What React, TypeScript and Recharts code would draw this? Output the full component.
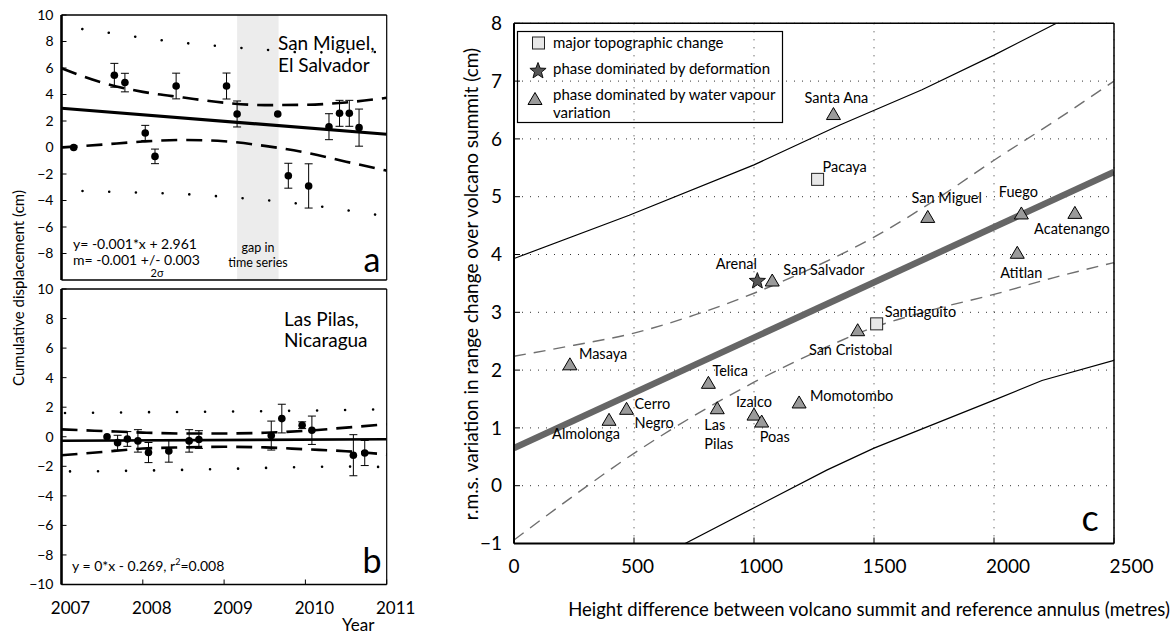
import React from 'react';
import {
  ComposedChart,
  XAxis,
  YAxis,
  Line,
  Scatter,
  ErrorBar,
  ReferenceArea,
  CartesianGrid,
} from 'recharts';

const FONT = "Lato, 'Open Sans', 'DejaVu Sans', sans-serif";

// ---------------- a: San Miguel, El Salvador ----------------
const sanMiguelYear = [2007.15, 2007.65, 2007.78, 2008.03, 2008.15, 2008.41, 2009.03, 2009.16, 2009.66, 2009.79, 2010.04, 2010.29, 2010.42, 2010.54, 2010.66];
const sanMiguelDisp = [0.0, 5.45, 4.9, 1.1, -0.67, 4.64, 4.64, 2.53, 2.53, -2.13, -2.9, 1.57, 2.58, 2.58, 1.5];
const sanMiguelErr = [0, 0.9, 0.7, 0.57, 0.55, 0.97, 0.98, 0.98, 0, 0.94, 1.67, 0.98, 0.98, 0.98, 1.4];

const fitYears = [2007, 2011];
const sanMiguelFit = [2.961, 1.0];

const bandYears = [2007, 2007.5, 2008, 2008.5, 2009, 2009.5, 2010, 2010.5, 2011];
const sanMiguelConfUpper = [5.98, 4.9, 4.2, 3.77, 3.38, 3.2, 3.22, 3.4, 3.75];
const sanMiguelConfLower = [0.0, 0.22, 0.45, 0.57, 0.47, 0.12, -0.38, -1.07, -1.75];
const sanMiguelPredUpper = [9.15, 8.73, 8.28, 7.9, 7.62, 7.38, 7.18, 7.18, 7.22];
const sanMiguelPredLower = [-3.24, -3.32, -3.41, -3.51, -3.72, -3.97, -4.3, -4.73, -5.2];

const gapYears = [2009.16, 2009.67];

// ---------------- b: Las Pilas, Nicaragua ----------------
const lasPilasYear = [2007.56, 2007.69, 2007.81, 2007.94, 2008.07, 2008.32, 2008.57, 2008.69, 2009.58, 2009.71, 2009.96, 2010.08, 2010.59, 2010.73];
const lasPilasDisp = [0.0, -0.4, -0.15, -0.28, -1.07, -0.96, -0.28, -0.19, 0.08, 1.23, 0.78, 0.44, -1.25, -1.1];
const lasPilasErr = [0, 0.5, 0.5, 0.76, 0.68, 0.76, 0.76, 0.6, 0.98, 0.97, 0.23, 0.96, 1.39, 0.85];

const lasPilasFit = [-0.269, -0.17];
const lasPilasConfUpper = [0.5, 0.39, 0.28, 0.22, 0.22, 0.27, 0.4, 0.62, 0.85];
const lasPilasConfLower = [-1.25, -1.03, -0.8, -0.72, -0.68, -0.72, -0.85, -0.98, -1.2];
const lasPilasPredUpper = [1.6, 1.63, 1.66, 1.68, 1.7, 1.73, 1.77, 1.81, 1.86];
const lasPilasPredLower = [-2.35, -2.33, -2.29, -2.24, -2.18, -2.11, -2.05, -2.02, -2.05];

// ---------------- shared tick lists for a / b ----------------
const yearTicks = [2007, 2008, 2009, 2010, 2011];
const dispTicksA = [-8, -6, -4, -2, 0, 2, 4, 6, 8, 10];
const dispTicksB = [-10, -8, -6, -4, -2, 0, 2, 4, 6, 8, 10];

// ---------------- c: rms variation vs height difference ----------------
const volcanoNames = ['Santa Ana', 'Pacaya', 'San Miguel', 'Fuego', 'Acatenango', 'Atitlan', 'Arenal', 'San Salvador', 'Santiaguito', 'San Cristobal', 'Masaya', 'Telica', 'Cerro Negro', 'Almolonga', 'Las Pilas', 'Izalco', 'Poas', 'Momotombo'];
const heightDiff = [1331, 1265, 1724, 2114, 2337, 2097, 1014, 1076, 1511, 1432, 233, 810, 469, 396, 847, 1000, 1032, 1188];
const rmsVariation = [6.43, 5.3, 4.65, 4.71, 4.72, 4.03, 3.54, 3.55, 2.8, 2.69, 2.1, 1.78, 1.33, 1.14, 1.34, 1.23, 1.11, 1.44];
const phaseClass = ['vapour', 'topography', 'vapour', 'vapour', 'vapour', 'vapour', 'deformation', 'vapour', 'topography', 'vapour', 'vapour', 'vapour', 'vapour', 'vapour', 'vapour', 'vapour', 'vapour', 'vapour'];

const fitHeights = [0, 2500];
const fitRms = [0.65, 5.43];
const bandHeights = [0, 250, 500, 750, 1000, 1250, 1500, 1750, 2000, 2250, 2500];
const confUpperRms = [2.24, 2.43, 2.64, 2.95, 3.33, 3.78, 4.3, 4.93, 5.63, 6.3, 7.0];
const confLowerRms = [-0.94, -0.17, 0.56, 1.21, 1.79, 2.3, 2.74, 3.05, 3.31, 3.6, 3.86];
const predUpperHeights = [0, 480, 1000, 1358, 1700, 2000, 2260];
const predUpperRms = [3.93, 4.68, 5.55, 6.24, 6.85, 7.45, 8.0];
const predLowerHeights = [713, 1303, 1500, 2000, 2200, 2500];
const predLowerRms = [-1, 0.27, 0.65, 1.48, 1.82, 2.17];

const heightTicks = [0, 500, 1000, 1500, 2000, 2500];
const rmsTicks = [-1, 0, 1, 2, 3, 4, 5, 6, 7, 8];

// label placement around each volcano marker (offset of the text centre)
type LabelPos = { anchor: 'start' | 'middle' | 'end'; dx: number; dy: number; lines?: string[] };
const labelLayout: Record<string, LabelPos> = {
  'Santa Ana': { anchor: 'middle', dx: 3, dy: -17 },
  Pacaya: { anchor: 'start', dx: 5, dy: -13 },
  'San Miguel': { anchor: 'middle', dx: 19, dy: -19 },
  Fuego: { anchor: 'middle', dx: -3, dy: -22 },
  Acatenango: { anchor: 'middle', dx: -3, dy: 16 },
  Atitlan: { anchor: 'middle', dx: 4, dy: 20 },
  Arenal: { anchor: 'middle', dx: -21, dy: -18 },
  'San Salvador': { anchor: 'start', dx: 11, dy: -11 },
  Santiaguito: { anchor: 'start', dx: 8, dy: -12 },
  'San Cristobal': { anchor: 'middle', dx: -7, dy: 19 },
  Masaya: { anchor: 'start', dx: 9, dy: -11 },
  Telica: { anchor: 'start', dx: 4, dy: -12 },
  'Cerro Negro': { anchor: 'start', dx: 8, dy: -5, lines: ['Cerro', 'Negro'] },
  Almolonga: { anchor: 'middle', dx: -23, dy: 14 },
  'Las Pilas': { anchor: 'start', dx: -13, dy: 16, lines: ['Las', 'Pilas'] },
  Izalco: { anchor: 'middle', dx: 0, dy: -13 },
  Poas: { anchor: 'start', dx: -2, dy: 15 },
  Momotombo: { anchor: 'start', dx: 11, dy: -7 },
};

const zip = (xs: number[], ys: number[]) => xs.map((x, i) => ({ x, y: ys[i] }));
const fmtMinus = (v: number) => (v < 0 ? '\u2212' + Math.abs(v) : String(v));

// ---------- marker glyphs ----------
const starPoints = (cx: number, cy: number, R: number, r: number) => {
  const pts: string[] = [];
  for (let k = 0; k < 10; k++) {
    const rad = k % 2 === 0 ? R : r;
    const a = -Math.PI / 2 + (k * Math.PI) / 5;
    pts.push(`${cx + rad * Math.cos(a)},${cy + rad * Math.sin(a)}`);
  }
  return pts.join(' ');
};

const triangleGlyph = (cx: number, cy: number) => (
  <polygon points={`${cx},${cy - 6.5} ${cx - 7},${cy + 5.5} ${cx + 7},${cy + 5.5}`} fill="#9a9a9a" stroke="#000" strokeWidth={1} />
);
const squareGlyph = (cx: number, cy: number) => (
  <rect x={cx - 6} y={cy - 6} width={12} height={12} fill="#e8e8e8" stroke="#222" strokeWidth={1} />
);
const starGlyph = (cx: number, cy: number) => (
  <polygon points={starPoints(cx, cy, 8.5, 3.6)} fill="#555" stroke="#111" strokeWidth={1} />
);

const glyphFor: Record<string, (cx: number, cy: number) => React.ReactElement> = {
  vapour: triangleGlyph,
  topography: squareGlyph,
  deformation: starGlyph,
};

const volcanoShape = (kind: string) => (props: any) => {
  const { cx, cy, payload } = props;
  const lay = labelLayout[payload.name];
  const lines = lay.lines ?? [payload.name];
  return (
    <g>
      {glyphFor[kind](cx, cy)}
      {lines.map((t: string, i: number) => (
        <text
          key={i}
          x={cx + lay.dx}
          y={cy + lay.dy + i * 19}
          textAnchor={lay.anchor}
          dominantBaseline="central"
          fontSize={14.5}
          fill="#000"
          fontFamily={FONT}
        >
          {t}
        </text>
      ))}
    </g>
  );
};

const dotShape = (props: any) => <circle cx={props.cx} cy={props.cy} r={3.8} fill="#000" />;

// bottom tick labels of panel c drift slightly rightwards with value
const HeightTick = (props: any) => {
  const { x, y, payload } = props;
  return (
    <text x={x + payload.value * 0.007} y={y} dy="0.71em" textAnchor="middle" fontSize={19} fill="#000" fontFamily={FONT}>
      {payload.value}
    </text>
  );
};

// ---------- time-series panel layers (a and b) ----------
type SeriesCfg = {
  year: number[];
  disp: number[];
  err: number[];
  fit: number[];
  confUpper: number[];
  confLower: number[];
  predUpper: number[];
  predLower: number[];
  dotGap: number;
  dotOffsetUpper: number;
  dotOffsetLower: number;
  fitWidth: number;
  dispTicks: number[];
  showYears: boolean;
};

function timeSeriesChildren(c: SeriesCfg, gap?: number[]) {
  const pts = c.year.map((x, i) => ({ x, y: c.disp[i], err: c.err[i] }));
  const common = {
    xAxisId: 'b',
    yAxisId: 'l',
    dataKey: 'y',
    dot: false,
    activeDot: false,
    isAnimationActive: false,
    type: 'monotone' as const,
  };
  const dotted = {
    ...common,
    stroke: '#000',
    strokeWidth: 2.6,
    strokeLinecap: 'round' as const,
    strokeDasharray: `0.01 ${c.dotGap}`,
  };
  const dashed = { ...common, stroke: '#000', strokeWidth: 2.6, strokeDasharray: '16 9' };
  const axisText = { fontSize: 14, fill: '#000', fontFamily: FONT };
  const kids: React.ReactElement[] = [
    <XAxis
      key="xb"
      xAxisId="b"
      type="number"
      dataKey="x"
      domain={[2007, 2011]}
      ticks={yearTicks}
      interval={0}
      allowDataOverflow
      height={40}
      tick={c.showYears ? { fontSize: 17, fill: '#000', fontFamily: FONT, dx: 9 } : false}
      tickSize={-5}
      tickMargin={22}
      axisLine={{ stroke: '#000', strokeWidth: 1.6 }}
      tickLine={{ stroke: '#000', strokeWidth: 1 }}
    />,
    <XAxis
      key="xt"
      xAxisId="t"
      orientation="top"
      mirror
      type="number"
      domain={[2007, 2011]}
      ticks={yearTicks}
      interval={0}
      allowDataOverflow
      tick={false}
      tickSize={5}
      axisLine={{ stroke: '#000', strokeWidth: 1.4 }}
      tickLine={{ stroke: '#000', strokeWidth: 1 }}
    />,
    <YAxis
      key="yl"
      yAxisId="l"
      type="number"
      domain={[-10, 10]}
      ticks={c.dispTicks}
      interval={0}
      allowDataOverflow
      width={40}
      tickSize={-5}
      tickMargin={13}
      tickFormatter={fmtMinus}
      tick={axisText}
      axisLine={{ stroke: '#000', strokeWidth: 2.6 }}
      tickLine={{ stroke: '#000', strokeWidth: 1 }}
    />,
    <YAxis
      key="yr"
      yAxisId="r"
      orientation="right"
      mirror
      type="number"
      domain={[-10, 10]}
      ticks={c.dispTicks}
      interval={0}
      allowDataOverflow
      tick={false}
      tickSize={5}
      axisLine={{ stroke: '#000', strokeWidth: 1.2 }}
      tickLine={{ stroke: '#000', strokeWidth: 1 }}
    />,
  ];
  if (gap) {
    kids.push(
      <ReferenceArea
        key="gap"
        xAxisId="b"
        yAxisId="l"
        x1={gap[0]}
        x2={gap[1]}
        y1={-10}
        y2={10}
        fill="#ececec"
        fillOpacity={1}
        stroke="none"
      />
    );
  }
  kids.push(
    <Line key="pu" {...dotted} data={zip(bandYears, c.predUpper)} strokeDashoffset={c.dotOffsetUpper} />,
    <Line key="pl" {...dotted} data={zip(bandYears, c.predLower)} strokeDashoffset={c.dotOffsetLower} />,
    <Line key="cu" {...dashed} data={zip(bandYears, c.confUpper)} />,
    <Line key="cl" {...dashed} data={zip(bandYears, c.confLower)} />,
    <Line key="fit" {...common} type="linear" stroke="#000" strokeWidth={c.fitWidth} data={zip(fitYears, c.fit)} />,
    <Scatter key="pts" xAxisId="b" yAxisId="l" data={pts} dataKey="y" shape={dotShape} isAnimationActive={false}>
      <ErrorBar dataKey="err" direction="y" width={4} stroke="#000" strokeWidth={1} />
    </Scatter>
  );
  return kids;
}

function PanelA() {
  // plot area: x 61.5–386.7, y 15–280
  return (
    <ComposedChart width={420} height={330} margin={{ top: 15, right: 33.3, bottom: 10, left: 21.5 }}>
      {timeSeriesChildren(
        {
          year: sanMiguelYear,
          disp: sanMiguelDisp,
          err: sanMiguelErr,
          fit: sanMiguelFit,
          confUpper: sanMiguelConfUpper,
          confLower: sanMiguelConfLower,
          predUpper: sanMiguelPredUpper,
          predLower: sanMiguelPredLower,
          dotGap: 26.7,
          dotOffsetUpper: 5.7,
          dotOffsetLower: 5.7,
          fitWidth: 3.2,
          dispTicks: dispTicksA,
          showYears: false,
        },
        gapYears
      )}
    </ComposedChart>
  );
}

function PanelB() {
  // plot area: x 61.5–386.7, y 289–584.5 (page)
  return (
    <ComposedChart width={420} height={367} margin={{ top: 19, right: 33.3, bottom: 12.5, left: 21.5 }}>
      {timeSeriesChildren({
        year: lasPilasYear,
        disp: lasPilasDisp,
        err: lasPilasErr,
        fit: lasPilasFit,
        confUpper: lasPilasConfUpper,
        confLower: lasPilasConfLower,
        predUpper: lasPilasPredUpper,
        predLower: lasPilasPredLower,
        dotGap: 28,
        dotOffsetUpper: 24.5,
        dotOffsetLower: 19.5,
        fitWidth: 2.6,
        dispTicks: dispTicksB,
        showYears: true,
      })}
    </ComposedChart>
  );
}

function PanelC() {
  const volcanoes = volcanoNames.map((name, i) => ({
    name,
    x: heightDiff[i],
    y: rmsVariation[i],
    kind: phaseClass[i],
  }));
  const common = {
    xAxisId: 'b',
    yAxisId: 'l',
    dataKey: 'y',
    dot: false,
    activeDot: false,
    isAnimationActive: false,
  };
  const tickText = { fontSize: 19, fill: '#000', fontFamily: FONT };
  return (
    <ComposedChart width={743} height={637} margin={{ top: 23.3, right: 59, bottom: 63.5, left: 44 }}>
      <XAxis
        xAxisId="b"
        type="number"
        dataKey="x"
        domain={[0, 2500]}
        ticks={heightTicks}
        interval={0}
        allowDataOverflow
        height={30}
        tick={<HeightTick />}
        tickSize={-6}
        tickMargin={22}
        axisLine={{ stroke: '#000', strokeWidth: 2 }}
        tickLine={{ stroke: '#000', strokeWidth: 1 }}
      />
      <XAxis
        xAxisId="t"
        orientation="top"
        mirror
        type="number"
        domain={[0, 2500]}
        ticks={heightTicks}
        interval={0}
        allowDataOverflow
        tick={false}
        tickSize={6}
        axisLine={{ stroke: '#000', strokeWidth: 1.4 }}
        tickLine={{ stroke: '#000', strokeWidth: 1 }}
      />
      <YAxis
        yAxisId="l"
        type="number"
        domain={[-1, 8]}
        ticks={rmsTicks}
        interval={0}
        allowDataOverflow
        width={40}
        tick={tickText}
        tickFormatter={fmtMinus}
        tickSize={-6}
        tickMargin={18}
        axisLine={{ stroke: '#000', strokeWidth: 2 }}
        tickLine={{ stroke: '#000', strokeWidth: 1 }}
      />
      <YAxis
        yAxisId="r"
        orientation="right"
        mirror
        type="number"
        domain={[-1, 8]}
        ticks={rmsTicks}
        interval={0}
        allowDataOverflow
        tick={false}
        tickSize={6}
        axisLine={{ stroke: '#000', strokeWidth: 1.5 }}
        tickLine={{ stroke: '#000', strokeWidth: 1 }}
      />
      <CartesianGrid xAxisId="b" yAxisId="l" stroke="#333" strokeWidth={1} strokeDasharray="1 7" />
      <Line {...common} type="monotone" data={zip(bandHeights, confUpperRms)} stroke="#6f6f6f" strokeWidth={1.4} strokeDasharray="12 8" />
      <Line {...common} type="monotone" data={zip(bandHeights, confLowerRms)} stroke="#6f6f6f" strokeWidth={1.4} strokeDasharray="12 8" />
      <Line {...common} type="linear" data={zip(predUpperHeights, predUpperRms)} stroke="#000" strokeWidth={1.2} />
      <Line {...common} type="linear" data={zip(predLowerHeights, predLowerRms)} stroke="#000" strokeWidth={1.2} />
      <Line {...common} type="linear" data={zip(fitHeights, fitRms)} stroke="#666" strokeWidth={6.5} />
      <Scatter xAxisId="b" yAxisId="l" dataKey="y" data={volcanoes.filter((v) => v.kind === 'vapour')} shape={volcanoShape('vapour')} isAnimationActive={false} />
      <Scatter xAxisId="b" yAxisId="l" dataKey="y" data={volcanoes.filter((v) => v.kind === 'topography')} shape={volcanoShape('topography')} isAnimationActive={false} />
      <Scatter xAxisId="b" yAxisId="l" dataKey="y" data={volcanoes.filter((v) => v.kind === 'deformation')} shape={volcanoShape('deformation')} isAnimationActive={false} />
    </ComposedChart>
  );
}

function Annotations() {
  const t = { fontFamily: FONT, fill: '#000' };
  return (
    <svg width={1173} height={637} style={{ position: 'absolute', left: 0, top: 0, pointerEvents: 'none' }}>
      {/* panel a */}
      <text x={278} y={50} fontSize={19} {...t}>San Miguel,</text>
      <text x={278} y={72} fontSize={19} {...t}>El Salvador</text>
      <text x={258} y={252} fontSize={12.5} textAnchor="middle" {...t}>gap in</text>
      <text x={258} y={266.5} fontSize={12.5} textAnchor="middle" {...t}>time series</text>
      <text x={73} y={248.5} fontSize={14} {...t}>y= -0.001*x + 2.961</text>
      <text x={73} y={264.5} fontSize={14} {...t}>m= -0.001 +/- 0.003</text>
      <text x={157} y={276.5} fontSize={11} textAnchor="middle" {...t}>2σ</text>
      <text x={372} y={272} fontSize={34} textAnchor="middle" {...t}>a</text>

      {/* panel b */}
      <text x={284} y={326} fontSize={19} {...t}>Las Pilas,</text>
      <text x={284} y={347} fontSize={19} {...t}>Nicaragua</text>
      <text x={72} y={571} fontSize={14} {...t}>
        y = 0*x - 0.269, r
        <tspan fontSize={9} dy={-6}>2</tspan>
        <tspan dy={6}>=0.008</tspan>
      </text>
      <text x={372} y={573} fontSize={34} textAnchor="middle" {...t}>b</text>
      <text x={342} y={631} fontSize={17} {...t}>Year</text>
      <text
        x={18}
        y={288}
        fontSize={15}
        textAnchor="middle"
        dominantBaseline="central"
        transform="rotate(-90 18 288)"
        {...t}
      >
        Cumulative displacement  (cm)
      </text>

      {/* panel c */}
      <text x={1090} y={531} fontSize={36} textAnchor="middle" {...t}>c</text>
      <text x={869} y={616} fontSize={18.5} textAnchor="middle" {...t}>
        Height difference between volcano summit and reference annulus (metres)
      </text>
      <text
        x={470}
        y={284}
        fontSize={19}
        textAnchor="middle"
        dominantBaseline="central"
        transform="rotate(-90 470 284)"
        {...t}
      >
        r.m.s. variation in range change over volcano summit  (cm)
      </text>

      {/* legend */}
      <rect x={517.5} y={31.5} width={265} height={91} fill="none" stroke="#000" strokeWidth={1.2} />
      {squareGlyph(538.5, 43)}
      <text x={553} y={47.5} fontSize={15} {...t}>major topographic change</text>
      {starGlyph(538, 71)}
      <text x={553} y={74} fontSize={15} {...t}>phase dominated by deformation</text>
      {triangleGlyph(535, 99)}
      <text x={553} y={100} fontSize={15} {...t}>phase dominated by water vapour</text>
      <text x={553} y={118} fontSize={15} {...t}>variation</text>
    </svg>
  );
}

export default function App() {
  return (
    <div
      style={{
        position: 'absolute',
        left: 0,
        top: 0,
        width: 1173,
        height: 637,
        background: '#fff',
        fontFamily: FONT,
        overflow: 'hidden',
      }}
    >
      <div style={{ position: 'absolute', left: 0, top: 0 }}>
        <PanelA />
      </div>
      <div style={{ position: 'absolute', left: 0, top: 270 }}>
        <PanelB />
      </div>
      <div style={{ position: 'absolute', left: 430, top: 0 }}>
        <PanelC />
      </div>
      <Annotations />
    </div>
  );
}
